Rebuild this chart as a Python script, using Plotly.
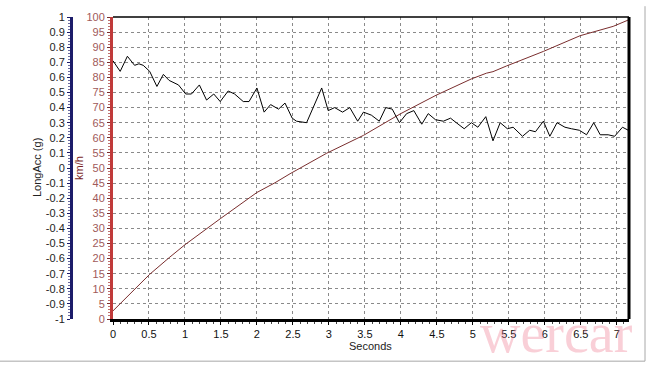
import plotly.graph_objects as go

# ---- data ----
acc_t = [0.00, 0.10, 0.20, 0.30, 0.36, 0.42, 0.51, 0.61, 0.70, 0.78, 0.91, 1.01, 1.09, 1.20, 1.30,
         1.40, 1.49, 1.60, 1.69, 1.81, 1.89, 2.00, 2.10, 2.19, 2.30, 2.39, 2.49, 2.55, 2.69, 2.80,
         2.90, 2.99, 3.08, 3.19, 3.29, 3.40, 3.48, 3.59, 3.70, 3.79, 3.88, 3.98, 4.08, 4.18, 4.29,
         4.38, 4.48, 4.59, 4.69, 4.77, 4.88, 4.98, 5.07, 5.18, 5.28, 5.38, 5.48, 5.56, 5.69, 5.79,
         5.87, 5.98, 6.07, 6.17, 6.28, 6.37, 6.48, 6.58, 6.68, 6.77, 6.88, 6.97, 7.08, 7.16]
acc_g = [0.71, 0.64, 0.74, 0.68, 0.69, 0.68, 0.64, 0.54, 0.62, 0.58, 0.55, 0.49, 0.49, 0.55, 0.45,
         0.49, 0.44, 0.51, 0.49, 0.44, 0.44, 0.53, 0.37, 0.42, 0.39, 0.43, 0.33, 0.31, 0.30, 0.42,
         0.53, 0.38, 0.40, 0.37, 0.40, 0.31, 0.37, 0.35, 0.31, 0.40, 0.39, 0.30, 0.36, 0.38, 0.29,
         0.36, 0.32, 0.31, 0.33, 0.30, 0.26, 0.30, 0.27, 0.34, 0.18, 0.30, 0.26, 0.27, 0.21, 0.25,
         0.24, 0.31, 0.21, 0.30, 0.27, 0.26, 0.25, 0.22, 0.30, 0.22, 0.22, 0.21, 0.27, 0.25]

spd_t = [0.00, 0.51, 0.79, 1.00, 1.49, 2.00, 2.25, 2.46, 2.97, 3.48, 3.99, 4.49, 4.98, 5.10,
         5.19, 5.28, 5.47, 5.98, 6.49, 6.95, 7.16]
spd_kmh = [2.7, 14.8, 20.5, 24.6, 33.2, 41.9, 45.1, 48.1, 54.9, 60.8, 67.9, 74.1, 79.5, 80.6,
           81.4, 81.9, 83.8, 88.6, 93.8, 96.9, 99.0]

x_ticks = [i * 0.5 for i in range(15)]
x_labels = ["0", "0.5", "1", "1.5", "2", "2.5", "3", "3.5", "4", "4.5", "5", "5.5", "6", "6.5", "7"]
kmh_ticks = list(range(0, 101, 5))
g_ticks = [round(-1 + 0.1 * i, 1) for i in range(21)]
g_labels = [("%g" % v) if v != 0 else "0" for v in g_ticks]

# ---- geometry (pixels) ----
W, H = 648, 365
L_PX, R_PX, T_PX, B_PX = 20, 629, 11, 319
pw = R_PX - L_PX
ph = B_PX - T_PX


def px(x):
    return (x - L_PX) / pw


def py(y):
    return (B_PX - y) / ph


FONT = "Liberation Sans, Arial, sans-serif"
GRID_DASH = "3px,3px"

fig = go.Figure()
fig.add_trace(go.Scatter(x=spd_t, y=spd_kmh, mode="lines", yaxis="y",
                         line=dict(color="#7a2e2e", width=1), showlegend=False))
fig.add_trace(go.Scatter(x=acc_t, y=acc_g, mode="lines", yaxis="y2",
                         line=dict(color="#000000", width=1), showlegend=False))

fig.update_layout(
    width=W, height=H,
    margin=dict(l=L_PX, r=W - R_PX, t=T_PX, b=H - B_PX, pad=0),
    paper_bgcolor="white", plot_bgcolor="white",
    font=dict(family=FONT, size=11, color="#222222"),
    xaxis=dict(
        domain=[px(113), 1], range=[0, 7.17],
        tickvals=x_ticks, ticktext=x_labels,
        showgrid=True, gridcolor="#8a8a8a", griddash=GRID_DASH, gridwidth=1,
        showline=True, linecolor="black", linewidth=3,
        ticks="outside", ticklen=3, tickcolor="black", tickwidth=1,
        minor=dict(dtick=0.1, ticks="outside", ticklen=2, tickcolor="#444"),
        zeroline=False, tickfont=dict(size=11, color="#111"),
    ),
    yaxis=dict(
        range=[0, 100], tickvals=kmh_ticks,
        showgrid=True, gridcolor="#8a8a8a", griddash=GRID_DASH, gridwidth=1,
        showline=True, linecolor="#c03a3a", linewidth=3,
        ticks="outside", ticklen=3, tickcolor="#7a2e2e",
        minor=dict(dtick=1, ticks="outside", ticklen=2, tickcolor="#c07070"),
        zeroline=False, tickfont=dict(size=11, color="#a05a5a"),
    ),
    yaxis2=dict(
        range=[-1, 1], tickvals=g_ticks, ticktext=g_labels,
        overlaying="y", side="left", anchor="free", position=px(71),
        showgrid=False, showline=True, linecolor="#1c1c6a", linewidth=3,
        ticks="outside", ticklen=3, tickcolor="#1c1c6a",
        minor=dict(dtick=0.02, ticks="outside", ticklen=2, tickcolor="#6a6aa0"),
        zeroline=False, tickfont=dict(size=11, color="#222222"),
    ),
)

shapes = [
    dict(type="line", xref="paper", yref="paper", x0=px(113), x1=1, y0=1, y1=1,
         line=dict(color="black", width=1.5)),
    dict(type="line", xref="paper", yref="paper", x0=1, x1=1, y0=0, y1=1,
         line=dict(color="black", width=3)),
    dict(type="line", xref="paper", yref="paper", x0=px(645), x1=px(645), y0=py(362), y1=py(0),
         line=dict(color="#a8a8a8", width=1)),
    dict(type="line", xref="paper", yref="paper", x0=px(0), x1=px(645), y0=py(362), y1=py(362),
         line=dict(color="#a8a8a8", width=1)),
]
fig.update_layout(shapes=shapes)

annotations = [
    dict(text="wercar", x=px(556), y=py(333), xref="paper", yref="paper",
         showarrow=False, xanchor="center", yanchor="middle",
         font=dict(size=56, color="rgba(238,130,150,0.38)",
                   family="Liberation Serif, Times New Roman, serif")),
    dict(text="LongAcc (g)", x=px(37), y=py(165), xref="paper", yref="paper",
         textangle=-90, showarrow=False, xanchor="center", yanchor="middle",
         font=dict(size=11, color="#222222")),
    dict(text="km/h", x=px(79), y=py(165), xref="paper", yref="paper",
         textangle=-90, showarrow=False, xanchor="center", yanchor="middle",
         font=dict(size=11, color="#7a1e1e")),
    dict(text="Seconds", x=px(370), y=py(347), xref="paper", yref="paper",
         showarrow=False, xanchor="center", yanchor="middle",
         font=dict(size=11, color="#222222")),
]
fig.update_layout(annotations=annotations)

fig.write_html("out.html")
